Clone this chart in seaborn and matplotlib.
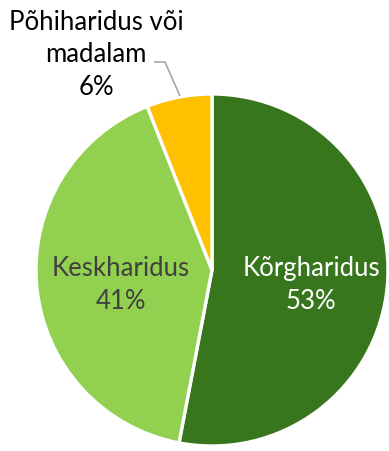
import matplotlib
matplotlib.use("Agg")
import matplotlib.pyplot as plt
import seaborn as sns

categories = ["Kõrgharidus", "Keskharidus", "Põhiharidus või\nmadalam"]
shares = [53, 41, 6]
colors = ["#38761D", "#92D050", "#FFC000"]
text_colors = ["#FFFFFF", "#404040", "#000000"]

sns.set_theme(style="white")
plt.rcParams["font.family"] = ["Lato", "DejaVu Sans"]

W, H = 389, 452
fig = plt.figure(figsize=(W / 100, H / 100), dpi=100)
ax = fig.add_axes([0, 0, 1, 1])

center = (212, H - 271)
radius = 176
ax.pie(shares, colors=colors, startangle=90, counterclock=False,
       center=center, radius=radius, frame=True,
       wedgeprops=dict(edgecolor="white", linewidth=2.4))
ax.set_xlim(0, W)
ax.set_ylim(0, H)
ax.set_aspect("equal")
ax.axis("off")

label_pos = [(311, H - 285), (121, H - 285), (96, H - 55)]
for cat, val, pos, tc in zip(categories, shares, label_pos, text_colors):
    ax.text(pos[0], pos[1], f"{cat}\n{val}%", ha="center", va="center",
            color=tc, fontsize=18.5, linespacing=1.36)

# leader line for the small slice
ax.plot([154, 165, 180], [H - 63, H - 63, H - 97], color="#A6A6A6", lw=1.2,
        solid_capstyle="butt")

fig.savefig("out.png", dpi=100)
